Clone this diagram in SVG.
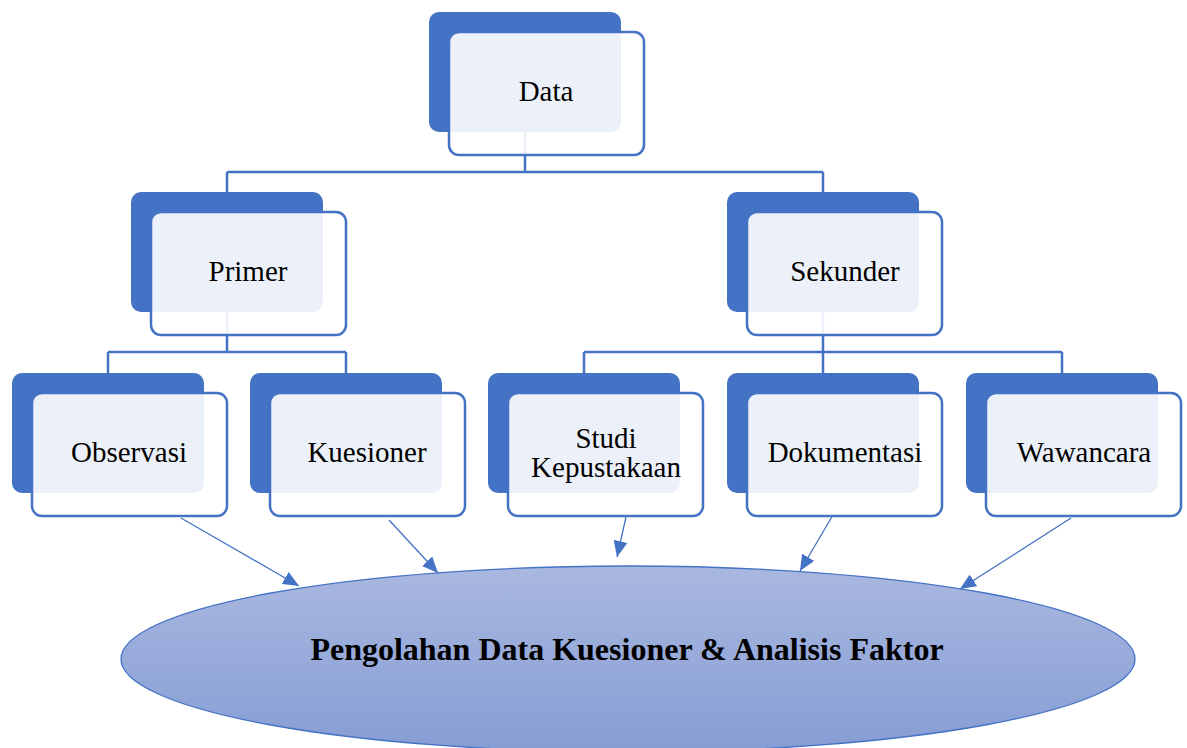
<svg xmlns="http://www.w3.org/2000/svg" width="1187" height="748" viewBox="0 0 1187 748">
<style>
.back{fill:#4472C4;}
.front{fill:#FFFFFF;fill-opacity:0.9;stroke:#4472C4;stroke-width:2.5;}
.lbl{font-family:"Liberation Serif","Times New Roman",serif;font-size:29px;fill:#000;text-anchor:middle;}
.conn{fill:none;stroke:#4472C4;stroke-width:2.5;}
.arr{fill:none;stroke:#4472C4;stroke-width:1.3;marker-end:url(#ah);}
.main{font-family:"Liberation Serif","Times New Roman",serif;font-size:32px;font-weight:bold;fill:#000;text-anchor:middle;}
</style>
<defs>
<marker id="ah" markerUnits="userSpaceOnUse" markerWidth="16" markerHeight="14" refX="16" refY="7" orient="auto">
<path d="M0,0 L16,7 L0,14 z" fill="#4472C4"/>
</marker>
<linearGradient id="eg" x1="0" y1="0" x2="0" y2="1">
<stop offset="0" stop-color="#A9B8E0"/>
<stop offset="1" stop-color="#869DD4"/>
</linearGradient>
</defs>
<rect width="1187" height="748" fill="#FFFFFF"/>
<g id="connectors">
<path class="conn" d="M525,132 V172 M227,172 H823 M227,172 V192 M823,172 V192"/>
<path class="conn" d="M227,312 V352 M108,352 H346 M108,352 V373 M346,352 V373"/>
<path class="conn" d="M823,312 V352 M584,352 H1062 M584,352 V373 M823,352 V373 M1062,352 V373"/>
</g>
<g id="node-data">
<rect class="back" x="429" y="12" width="192" height="120" rx="10"/>
<rect class="front" x="449" y="32" width="195" height="123" rx="10"/>
<text class="lbl" x="546" y="101">Data</text>
</g>
<g id="node-primer">
<rect class="back" x="131" y="192" width="192" height="120" rx="10"/>
<rect class="front" x="151" y="212" width="195" height="123" rx="10"/>
<text class="lbl" x="248" y="281">Primer</text>
</g>
<g id="node-sekunder">
<rect class="back" x="727" y="192" width="192" height="120" rx="10"/>
<rect class="front" x="747" y="212" width="195" height="123" rx="10"/>
<text class="lbl" x="845" y="281">Sekunder</text>
</g>
<g id="node-observasi">
<rect class="back" x="12" y="373" width="192" height="120" rx="10"/>
<rect class="front" x="32" y="393" width="195" height="123" rx="10"/>
<text class="lbl" x="129" y="462">Observasi</text>
</g>
<g id="node-kuesioner">
<rect class="back" x="250" y="373" width="192" height="120" rx="10"/>
<rect class="front" x="270" y="393" width="195" height="123" rx="10"/>
<text class="lbl" x="367" y="462">Kuesioner</text>
</g>
<g id="node-studi">
<rect class="back" x="488" y="373" width="192" height="120" rx="10"/>
<rect class="front" x="508" y="393" width="195" height="123" rx="10"/>
<text class="lbl" x="606" y="448">Studi</text>
<text class="lbl" x="606" y="477">Kepustakaan</text>
</g>
<g id="node-dokumentasi">
<rect class="back" x="727" y="373" width="192" height="120" rx="10"/>
<rect class="front" x="747" y="393" width="195" height="123" rx="10"/>
<text class="lbl" x="845" y="462">Dokumentasi</text>
</g>
<g id="node-wawancara">
<rect class="back" x="966" y="373" width="192" height="120" rx="10"/>
<rect class="front" x="986" y="393" width="195" height="123" rx="10"/>
<text class="lbl" x="1084" y="462">Wawancara</text>
</g>
<g id="node-pengolahan">
<ellipse cx="628" cy="659" rx="507" ry="93" fill="url(#eg)" stroke="#4472C4" stroke-width="1.3"/>
<text class="main" x="627" y="660">Pengolahan Data Kuesioner &amp; Analisis Faktor</text>
</g>
<g id="arrows">
<line class="arr" x1="181" y1="518" x2="299" y2="586"/>
<line class="arr" x1="389" y1="520" x2="438" y2="573"/>
<line class="arr" x1="626" y1="517" x2="617" y2="557"/>
<line class="arr" x1="833" y1="515" x2="800" y2="571"/>
<line class="arr" x1="1071" y1="518" x2="960" y2="589"/>
</g>
</svg>
